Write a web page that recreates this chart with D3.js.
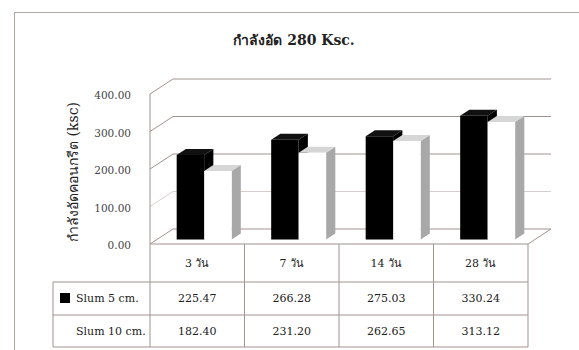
<!DOCTYPE html>
<html>
<head>
<meta charset="utf-8">
<script src="https://cdn.jsdelivr.net/npm/d3@7"></script>
<style>
  body { margin: 0; background: #fff; }
  svg { display: block; }
</style>
</head>
<body>
<svg id="chart" width="579" height="350"></svg>
<script>
// data
var categories = ["3 วัน", "7 วัน", "14 วัน", "28 วัน"];
var seriesNames = ["Slum 5 cm.", "Slum 10 cm."];
var slum5 = [225.47, 266.28, 275.03, 330.24];
var slum10 = [182.40, 231.20, 262.65, 313.12];
var yTicks = [0, 100, 200, 300, 400];
var title = "กำลังอัด 280 Ksc.";
var yTitle = "กำลังอัดคอนกรีต (ksc)";

var serif = "'DejaVu Serif', 'Liberation Serif', serif";
var svg = d3.select("#chart").attr("fill", "#222");
var lineColor = "#a3938f";

// oblique depth vector for the 3d look
var depth = [23, -15];
function proj(x, y, t) { return [x + depth[0] * t, y + depth[1] * t]; }

var x = d3.scaleBand().domain(categories).range([150, 528]);
var xs = d3.scaleBand().domain(seriesNames).range([0, x.bandwidth()]).paddingOuter(0.72);
var y = d3.scaleLinear().domain([0, 400]).range([244, 94]);

// outer frame
svg.append("rect").attr("x", 14.5).attr("y", 12.5).attr("width", 600).attr("height", 400)
    .attr("fill", "none").attr("stroke", "#b3a5a2");

svg.append("text").attr("x", 294).attr("y", 45).attr("text-anchor", "middle")
    .style("font-family", serif).attr("font-size", 14).attr("font-weight", "bold").text(title);

var walls = svg.append("g").attr("stroke", lineColor).attr("fill", "none");
var x0 = x.range()[0], x1 = x.range()[1];

// gridlines: left wall slant + back wall
yTicks.forEach(function (v) {
    var a = proj(x0, y(v), 0), b = proj(x0, y(v), 1), c = proj(x1, y(v), 1);
    walls.append("path").attr("d", "M" + a + "L" + b + "L" + c)
        .attr("stroke-opacity", v == 100 ? 0.45 : 1);
});
// left wall front edge
walls.append("line").attr("x1", x0).attr("x2", x0).attr("y1", y(400)).attr("y2", 347);
// floor right edge
var fr = proj(x1, y(0), 1);
walls.append("line").attr("x1", x1).attr("y1", y(0)).attr("x2", fr[0]).attr("y2", fr[1]);

// tick labels
svg.append("g").selectAll("text").data(yTicks).join("text")
    .attr("x", 131).attr("y", function (d) { return y(d) + 5; })
    .attr("text-anchor", "end").style("font-family", serif).attr("font-size", 10.5).attr("fill", "#444")
    .text(function (d) { return d3.format(".2f")(d); });

svg.append("text").attr("transform", "translate(78,172) rotate(-90)")
    .style("font-family", serif).attr("text-anchor", "middle").attr("font-size", 14).text(yTitle);

// bars
var t0 = 0.3, t1 = 0.7;
var bars = svg.append("g");
var faceColors = [
    { front: "#000", top: "#111", side: "#000" },
    { front: "#fff", top: "#d6d6d6", side: "#a8a8a8" }
];
categories.forEach(function (cat, i) {
    [slum5[i], slum10[i]].forEach(function (v, s) {
        var bx0 = x(cat) + xs(seriesNames[s]), bx1 = bx0 + xs.bandwidth();
        var yt = y(v), yb = y(0);
        var c = faceColors[s];
        function poly(pts) { return "M" + pts.join("L") + "Z"; }
        bars.append("path").attr("fill", c.side)
            .attr("d", poly([proj(bx1, yb, t0), proj(bx1, yb, t1), proj(bx1, yt, t1), proj(bx1, yt, t0)]));
        bars.append("path").attr("fill", c.top)
            .attr("d", poly([proj(bx0, yt, t0), proj(bx1, yt, t0), proj(bx1, yt, t1), proj(bx0, yt, t1)]));
        bars.append("path").attr("fill", c.front)
            .attr("d", poly([proj(bx0, yb, t0), proj(bx1, yb, t0), proj(bx1, yt, t0), proj(bx0, yt, t0)]));
    });
});

// data table under the chart
var rows = [244, 282, 315, 347];
var tbl = svg.append("g").attr("stroke", lineColor);
tbl.append("line").attr("x1", x0).attr("x2", x1).attr("y1", rows[0]).attr("y2", rows[0]);
rows.slice(1).forEach(function (r) {
    tbl.append("line").attr("x1", 53).attr("x2", x1).attr("y1", r).attr("y2", r);
});
tbl.append("line").attr("x1", 53).attr("x2", 53).attr("y1", rows[1]).attr("y2", rows[3]);
categories.forEach(function (cat) {
    var cx = x(cat) + x.bandwidth();
    tbl.append("line").attr("x1", cx).attr("x2", cx).attr("y1", rows[0]).attr("y2", rows[3]);
});

var txt = svg.append("g").style("font-family", serif).attr("font-size", 11);
categories.forEach(function (cat, i) {
    var cx = x(cat) + x.bandwidth() / 2;
    txt.append("text").attr("x", cx).attr("y", 267).attr("text-anchor", "middle").text(cat);
    txt.append("text").attr("x", cx).attr("y", 302).attr("text-anchor", "middle").text(d3.format(".2f")(slum5[i]));
    txt.append("text").attr("x", cx).attr("y", 335).attr("text-anchor", "middle").text(d3.format(".2f")(slum10[i]));
});
seriesNames.forEach(function (name, s) {
    var ry = [298, 331][s];
    txt.append("rect").attr("x", 60).attr("y", ry - 5).attr("width", 10).attr("height", 10)
        .attr("fill", faceColors[s].front);
    txt.append("text").attr("x", 76).attr("y", ry + 4).text(name);
});
</script>
</body>
</html>
